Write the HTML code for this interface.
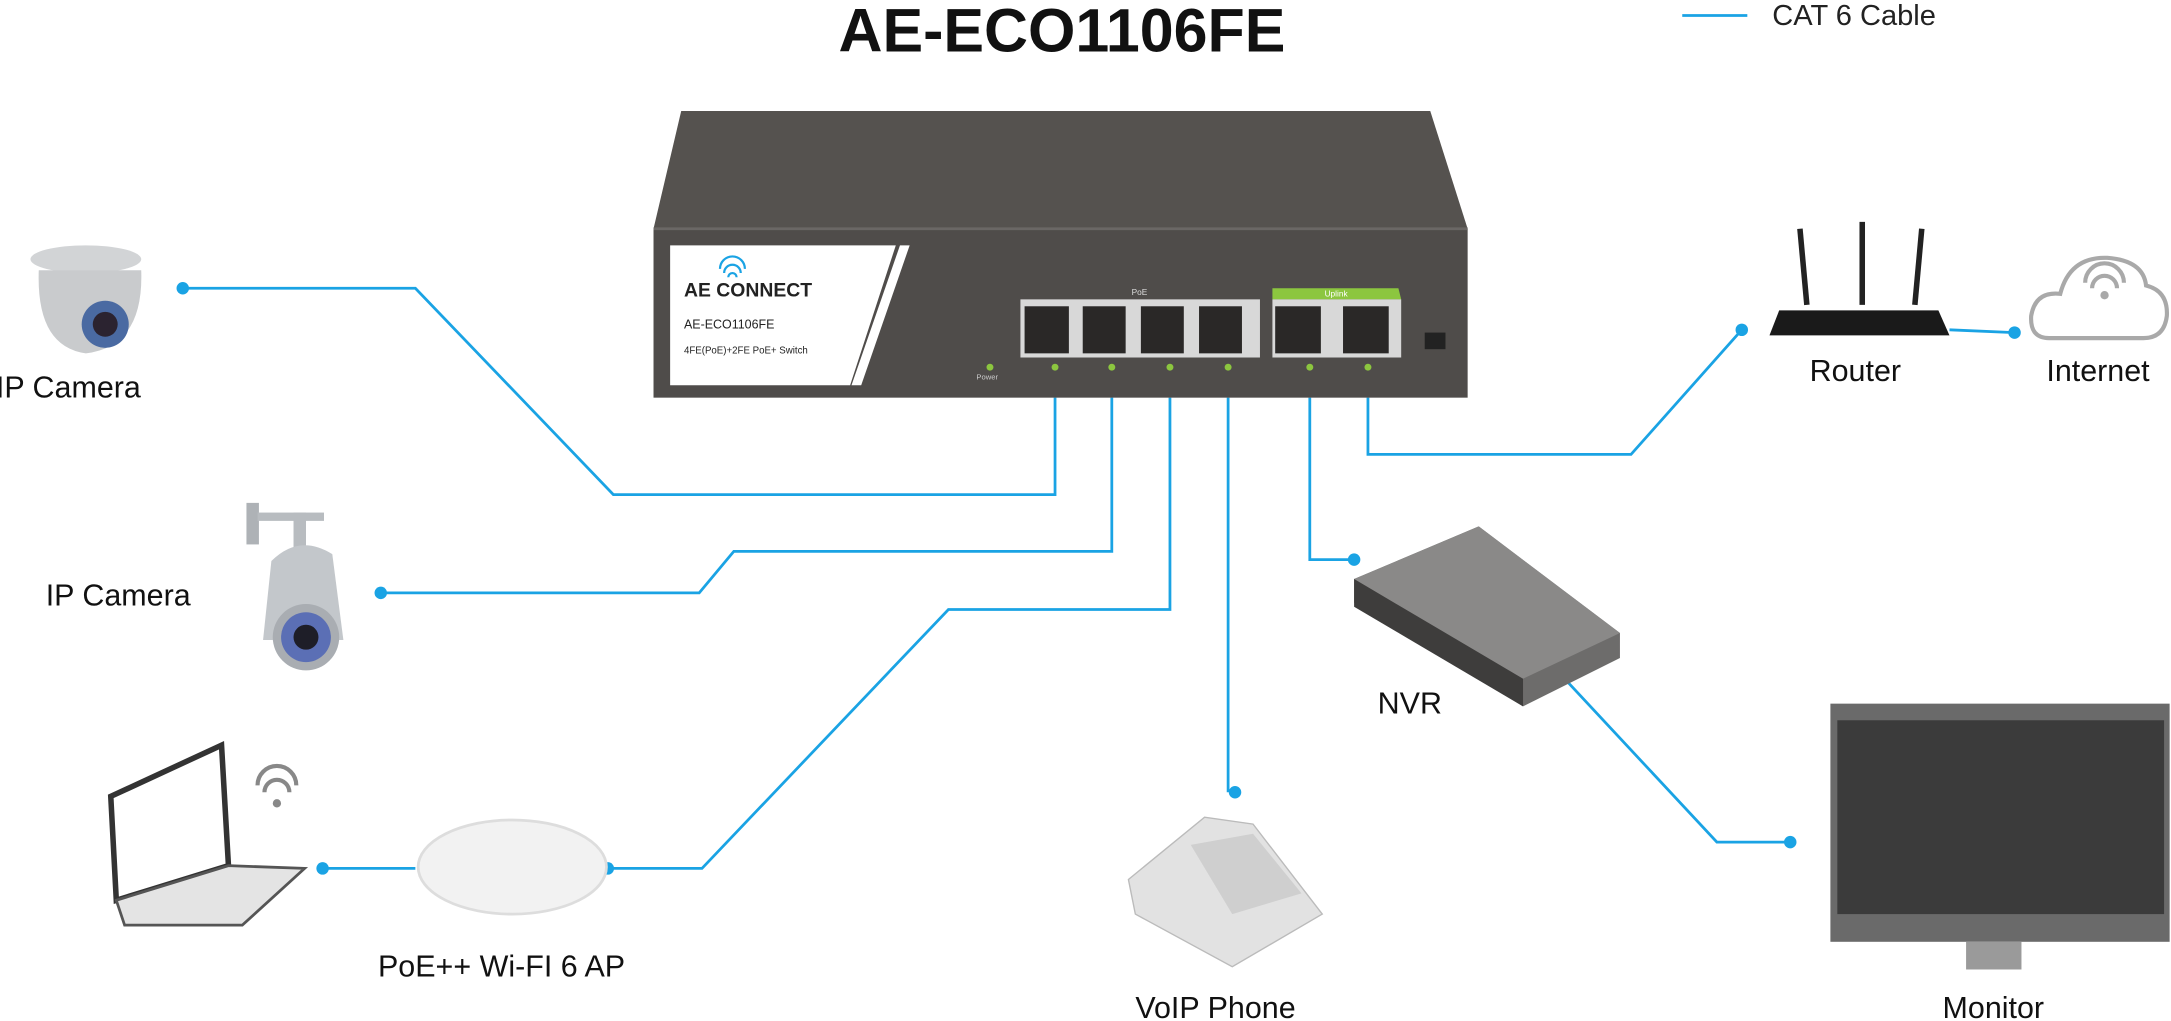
<!DOCTYPE html>
<html><head><meta charset="utf-8"><style>
html,body{margin:0;padding:0;background:#fff;overflow:hidden}
svg{display:block}
text{font-family:"Liberation Sans",sans-serif}
</style></head><body>
<svg width="2171" height="1021" viewBox="0 0 1568 737" xmlns="http://www.w3.org/2000/svg">
<rect width="1568" height="737" fill="#fff"/>
<!-- title & legend -->
<text x="767" y="37" font-size="44" font-weight="bold" text-anchor="middle" fill="#111">AE-ECO1106FE</text>
<line x1="1215" y1="11" x2="1262" y2="11" stroke="#1aa3e4" stroke-width="2"/>
<text x="1280" y="18" font-size="21" fill="#222">CAT 6 Cable</text>

<!-- cables -->
<g fill="none" stroke="#1aa3e4" stroke-width="2">
<polyline points="762,287 762,357 443,357 300,208 132,208"/>
<polyline points="803,287 803,398 530,398 505,428 275,428"/>
<polyline points="845,287 845,440 685,440 507,627 439,627"/>
<polyline points="887,287 887,572"/>
<polyline points="946,287 946,404 978,404"/>
<polyline points="988,287 988,328 1178,328 1258,238"/>
<polyline points="1408,238 1455,240"/>
<polyline points="1130,490 1240,608 1293,608"/>
<polyline points="233,627 300,627"/>
</g>
<g fill="#1aa3e4">
<circle cx="132" cy="208" r="4.5"/><circle cx="275" cy="428" r="4.5"/><circle cx="439" cy="627" r="4.5"/>
<circle cx="233" cy="627" r="4.5"/><circle cx="892" cy="572" r="4.5"/><circle cx="978" cy="404" r="4.5"/>
<circle cx="1258" cy="238" r="4.5"/><circle cx="1455" cy="240" r="4.5"/><circle cx="1293" cy="608" r="4.5"/>
</g>

<!-- switch -->
<polygon points="492,80 1033,80 1060,165 472,165" fill="#55524f"/>
<rect x="472" y="165" width="588" height="122" fill="#4f4c4a"/>
<line x1="472" y1="165" x2="1060" y2="165" stroke="#6a6765" stroke-width="2"/>
<polygon points="484,177 647,177 614,278 484,278" fill="#fff"/>
<polygon points="650,177 657,177 622,278 615,278" fill="#fff"/>
<path d="M520,194 a9,9 0 0 1 18,0 M523,197 a6,6 0 0 1 12,0 M526,200 a3,3 0 0 1 6,0" stroke="#1aa3e4" stroke-width="1.6" fill="none"/>
<text x="494" y="214" font-size="14" font-weight="bold" fill="#222">AE CONNECT</text>
<text x="494" y="237" font-size="9" fill="#222">AE-ECO1106FE</text>
<text x="494" y="255" font-size="7" fill="#222">4FE(PoE)+2FE PoE+ Switch</text>
<text x="823" y="213" font-size="6" fill="#ddd" text-anchor="middle">PoE</text>
<rect x="737" y="216" width="173" height="42" fill="#d8d8d8"/>
<polygon points="919,208 1010,208 1012,216 919,216" fill="#8cc63f"/>
<rect x="919" y="216" width="93" height="42" fill="#d8d8d8"/>
<text x="965" y="214" font-size="6" fill="#fff" text-anchor="middle">Uplink</text>
<g fill="#2a2827">
<rect x="740" y="221" width="32" height="34"/><rect x="782" y="221" width="31" height="34"/>
<rect x="824" y="221" width="31" height="34"/><rect x="866" y="221" width="31" height="34"/>
<rect x="921" y="221" width="33" height="34"/><rect x="970" y="221" width="33" height="34"/>
</g>
<rect x="1029" y="240" width="15" height="12" fill="#222"/>
<g fill="#8cc63f">
<circle cx="715" cy="265" r="2.5"/><circle cx="762" cy="265" r="2.5"/><circle cx="803" cy="265" r="2.5"/><circle cx="845" cy="265" r="2.5"/><circle cx="887" cy="265" r="2.5"/><circle cx="946" cy="265" r="2.5"/><circle cx="988" cy="265" r="2.5"/>
</g>
<text x="713" y="274" font-size="5.5" fill="#ccc" text-anchor="middle">Power</text>

<!-- dome camera -->
<ellipse cx="62" cy="187" rx="40" ry="10" fill="#d2d4d6"/>
<path d="M28,195 L102,195 Q104,250 62,255 Q26,250 28,195Z" fill="#c9cbcd"/>
<circle cx="76" cy="234" r="17" fill="#4a6aa2"/><circle cx="76" cy="234" r="9" fill="#2b2330"/>
<text x="-3" y="287" font-size="22" fill="#111">IP Camera</text>

<!-- bullet camera -->
<rect x="178" y="363" width="9" height="30" fill="#aeb2b6"/>
<rect x="186" y="370" width="48" height="6" fill="#b8bcc0"/>
<rect x="212" y="370" width="9" height="30" fill="#b8bcc0"/>
<path d="M196,405 Q216,385 240,400 L248,462 L190,462Z" fill="#c3c7cb"/>
<circle cx="221" cy="460" r="24" fill="#a9adb2"/><circle cx="221" cy="460" r="18" fill="#5b6fb5"/><circle cx="221" cy="460" r="9" fill="#1e1e28"/>
<text x="33" y="437" font-size="22" fill="#111">IP Camera</text>

<!-- laptop -->
<polygon points="80,575 160,538 165,625 84,650" fill="#fff" stroke="#333" stroke-width="4"/>
<polygon points="84,650 165,625 220,627 175,668 90,668" fill="#e4e4e4" stroke="#555" stroke-width="2"/>
<path d="M186,567 a14,14 0 0 1 28,0 M191,572 a9,9 0 0 1 18,0" stroke="#888" stroke-width="3" fill="none"/><circle cx="200" cy="580" r="3" fill="#888"/>

<!-- AP -->
<ellipse cx="370" cy="626" rx="68" ry="34" fill="#f2f2f2" stroke="#ddd" stroke-width="2"/>
<text x="273" y="705" font-size="22" fill="#111">PoE++ Wi-FI 6 AP</text>

<!-- phone -->
<polygon points="815,635 870,590 905,595 955,660 890,698 820,660" fill="#e2e2e2" stroke="#bbb"/>
<polygon points="860,610 905,602 940,645 890,660" fill="#cfcfcf"/>
<text x="820" y="735" font-size="22" fill="#111">VoIP Phone</text>

<!-- NVR -->
<polygon points="978,418 1068,380 1170,457 1170,475 1100,510 978,435" fill="#6d6c6b"/>
<polygon points="978,418 1068,380 1170,457 1100,490" fill="#8a8988"/>
<polygon points="978,418 1100,490 1100,510 978,438" fill="#3e3d3c"/>
<text x="995" y="515" font-size="22" fill="#111">NVR</text>

<!-- monitor -->
<rect x="1322" y="508" width="245" height="172" fill="#6a6a6a"/>
<rect x="1327" y="520" width="236" height="140" fill="#3b3b3b"/>
<rect x="1420" y="680" width="40" height="20" fill="#9a9a9a"/>
<text x="1403" y="735" font-size="22" fill="#111">Monitor</text>

<!-- router -->
<line x1="1305" y1="220" x2="1300" y2="165" stroke="#222" stroke-width="4"/>
<line x1="1345" y1="220" x2="1345" y2="160" stroke="#222" stroke-width="4"/>
<line x1="1383" y1="220" x2="1388" y2="165" stroke="#222" stroke-width="4"/>
<polygon points="1285,224 1400,224 1408,242 1278,242" fill="#1a1a1a"/>
<text x="1307" y="275" font-size="22" fill="#111">Router</text>

<!-- cloud -->
<path d="M1480,244 Q1466,244 1467,228 Q1470,210 1488,212 Q1495,185 1522,186 Q1548,188 1550,206 Q1566,210 1565,228 Q1563,244 1548,244Z" fill="none" stroke="#a9a9a9" stroke-width="3"/>
<path d="M1506,204 a14,14 0 0 1 28,0 M1511,208 a9,9 0 0 1 18,0" stroke="#a9a9a9" stroke-width="3" fill="none"/><circle cx="1520" cy="213" r="3" fill="#a9a9a9"/>
<text x="1478" y="275" font-size="22" fill="#111">Internet</text>
</svg>
</body></html>
